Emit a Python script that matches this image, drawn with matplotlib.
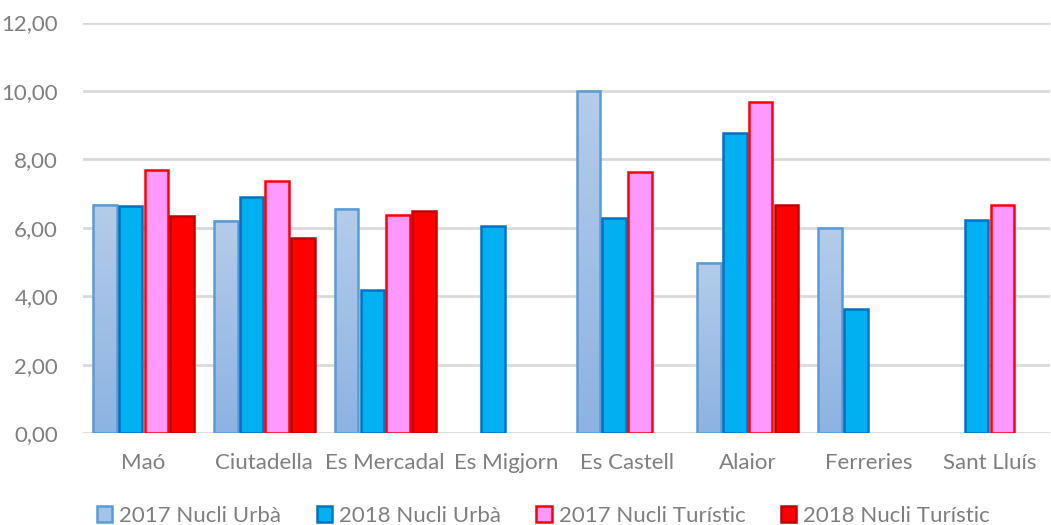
import numpy as np
import matplotlib
matplotlib.use('Agg')
import matplotlib.pyplot as plt
from matplotlib.colors import LinearSegmentedColormap
from matplotlib.patches import Patch

municipis = ['Maó', 'Ciutadella', 'Es Mercadal', 'Es Migjorn', 'Es Castell',
             'Alaior', 'Ferreries', 'Sant Lluís']
urba_2017 = [6.67, 6.21, 6.55, np.nan, 10.00, 4.98, 6.01, np.nan]
urba_2018 = [6.63, 6.90, 4.18, 6.04, 6.28, 8.78, 3.63, 6.23]
turistic_2017 = [7.68, 7.37, 6.39, np.nan, 7.64, 9.67, np.nan, 6.67]
turistic_2018 = [6.35, 5.69, 6.50, np.nan, np.nan, 6.67, np.nan, np.nan]
series_labels = ['2017 Nucli Urbà', '2018 Nucli Urbà', '2017 Nucli Turístic', '2018 Nucli Turístic']
y_ticks = [0, 2, 4, 6, 8, 10, 12]

plt.rcParams['font.family'] = ['Lato', 'DejaVu Sans']
text_col = '#7f7f7f'
grid_col = '#d9d9d9'

fig = plt.figure(figsize=(10.51, 5.25), dpi=100)
ax = fig.add_axes([0.079, 0.175, 0.92, 0.782])

series = [urba_2017, urba_2018, turistic_2017, turistic_2018]
faces = [None, '#00b0f0', '#ff99ff', '#ff0000']
edges = ['#5b9bd5', '#0070c0', '#ff0000', '#c00000']
grad = LinearSegmentedColormap.from_list('g', ['#8db3e2', '#b4cce9'])

x = np.arange(len(municipis))
slot = 0.2125
width = 0.195
for i, vals in enumerate(series):
    xs = x + (i - 1.5) * slot
    if faces[i] is None:
        # gradient fill for the 2017 urban bars
        bars = ax.bar(xs, vals, width, facecolor='none', edgecolor=edges[i], lw=1.8, zorder=4)
        for b, v in zip(bars, vals):
            if np.isnan(v):
                continue
            x0 = b.get_x()
            ax.imshow(np.linspace(0, 1, 64).reshape(-1, 1), cmap=grad, origin='lower',
                      extent=[x0, x0 + width, 0, v], aspect='auto', zorder=3)
    else:
        ax.bar(xs, vals, width, facecolor=faces[i], edgecolor=edges[i], lw=1.8, zorder=4)

ax.set_xlim(-0.5, len(municipis) - 0.5)
ax.set_ylim(0, 12)
ax.set_yticks(y_ticks)
ax.set_yticklabels([f'{t:.2f}'.replace('.', ',') for t in y_ticks])
ax.set_xticks(x)
ax.set_xticklabels(municipis)
ax.tick_params(length=0, labelsize=16, colors=text_col)
ax.tick_params(axis='x', pad=14)
ax.tick_params(axis='y', pad=18)
ax.grid(axis='y', color=grid_col, lw=2, zorder=0)
for s in ax.spines.values():
    s.set_visible(False)

handles = [Patch(facecolor='#a5c3e6', edgecolor=edges[0], lw=1.8)] + \
          [Patch(facecolor=faces[i], edgecolor=edges[i], lw=1.8) for i in range(1, 4)]
fig.legend(handles, series_labels, loc='lower center', ncol=4, frameon=False,
           bbox_to_anchor=(0.517, -0.04), fontsize=16, labelcolor=text_col,
           handlelength=0.7, handleheight=0.7, handletextpad=0.3, columnspacing=1.6)

fig.savefig('out.png', dpi=100)
